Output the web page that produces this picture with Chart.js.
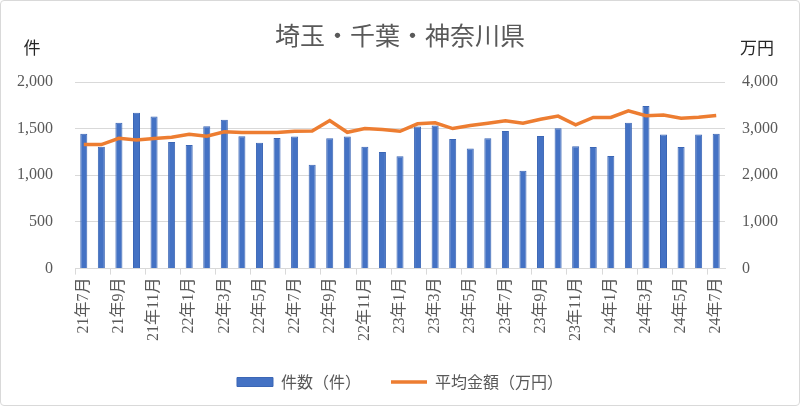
<!DOCTYPE html>
<html>
<head>
<meta charset="utf-8">
<script src="https://cdn.jsdelivr.net/npm/chart.js@4"></script>
<style>
  html, body { margin: 0; padding: 0; background: #fff; }
  #wrap { position: relative; width: 800px; height: 406px; }
  #frame { position: absolute; left: 0; top: 0; right: 0; bottom: 0; border: 1px solid #d9d9d9; border-radius: 4px; pointer-events: none; }
</style>
</head>
<body>
<div id="wrap">
  <canvas id="chart"></canvas>
  <div id="frame"></div>
</div>
<script>
const months = [
  '21年7月', '21年8月', '21年9月', '21年10月', '21年11月', '21年12月',
  '22年1月', '22年2月', '22年3月', '22年4月', '22年5月', '22年6月',
  '22年7月', '22年8月', '22年9月', '22年10月', '22年11月', '22年12月',
  '23年1月', '23年2月', '23年3月', '23年4月', '23年5月', '23年6月',
  '23年7月', '23年8月', '23年9月', '23年10月', '23年11月', '23年12月',
  '24年1月', '24年2月', '24年3月', '24年4月', '24年5月', '24年6月',
  '24年7月'
];
const counts = [
  1444, 1307, 1562, 1670, 1630, 1358, 1325, 1526, 1595, 1418, 1350, 1400,
  1415, 1113, 1397, 1415, 1307, 1250, 1203, 1523, 1533, 1390, 1286, 1397,
  1476, 1049, 1422, 1505, 1311, 1304, 1207, 1562, 1742, 1436, 1304, 1436,
  1444
];
const avgAmount = [
  2658, 2658, 2794, 2758, 2787, 2815, 2880, 2837, 2931, 2916, 2920, 2916,
  2944, 2950, 3175, 2922, 3002, 2980, 2944, 3103, 3125, 3002, 3067, 3116,
  3168, 3116, 3203, 3268, 3082, 3240, 3240, 3383, 3276, 3290, 3225, 3246,
  3283
];

const tickFont = { family: "'Liberation Serif', 'Noto Sans CJK JP', serif", size: 16 };
const textColor = '#595959';

// title and axis unit labels drawn at fixed spots
const headerText = {
  id: 'headerText',
  afterDraw(chart) {
    const ctx = chart.ctx;
    ctx.save();
    ctx.textBaseline = 'middle';
    ctx.textAlign = 'center';
    ctx.fillStyle = textColor;
    ctx.font = "25px 'Noto Sans CJK JP', sans-serif";
    ctx.fillText('埼玉・千葉・神奈川県', 400, 35);
    ctx.fillStyle = '#262626';
    ctx.font = "17px 'Noto Sans CJK JP', sans-serif";
    ctx.fillText('件', 32, 48);
    ctx.fillText('万円', 757, 48);
    ctx.restore();
  }
};

new Chart(document.getElementById('chart').getContext('2d'), {
  type: 'bar',
  data: {
    labels: months,
    datasets: [{
      label: '件数（件）',
      data: counts,
      yAxisID: 'y',
      backgroundColor: '#4472C4',
      borderColor: '#3b66b5',
      borderWidth: 1,
      barPercentage: 0.4,
      categoryPercentage: 1,
      order: 2
    }, {
      type: 'line',
      label: '平均金額（万円）',
      data: avgAmount,
      yAxisID: 'y1',
      borderColor: '#ED7D31',
      backgroundColor: '#ED7D31',
      borderWidth: 3.5,
      pointRadius: 0,
      tension: 0,
      order: 1
    }]
  },
  options: {
    responsive: true,
    maintainAspectRatio: false,
    animation: false,
    layout: { padding: { top: 82, bottom: 6, left: 0, right: 0 } },
    scales: {
      x: {
        grid: {
          offset: true,
          drawOnChartArea: false,
          tickLength: 6,
          color: (c) => (c.index % 2 === 0 ? '#d9d9d9' : 'rgba(0,0,0,0)')
        },
        border: { color: '#d9d9d9' },
        ticks: {
          autoSkip: false,
          minRotation: 90,
          maxRotation: 90,
          font: tickFont,
          color: textColor,
          padding: 3,
          callback: function(value, index) {
            return index % 2 === 0 ? this.getLabelForValue(value) : '';
          }
        }
      },
      y: {
        position: 'left',
        min: 0,
        max: 2000,
        grid: { color: '#d9d9d9', drawTicks: false },
        border: { display: false },
        ticks: { stepSize: 500, font: tickFont, color: textColor, padding: 22 },
        afterFit(scale) { scale.width = 75; }
      },
      y1: {
        position: 'right',
        min: 0,
        max: 4000,
        grid: { drawOnChartArea: false, drawTicks: false },
        border: { display: false },
        ticks: { stepSize: 1000, font: tickFont, color: textColor, padding: 17 },
        afterFit(scale) { scale.width = 75; }
      }
    },
    plugins: {
      legend: {
        position: 'bottom',
        labels: {
          usePointStyle: true,
          pointStyleWidth: 36,
          boxHeight: 9,
          padding: 30,
          color: textColor,
          font: { family: "'Noto Sans CJK JP', sans-serif", size: 16 },
          sort: (a, b) => a.datasetIndex - b.datasetIndex,
          generateLabels(chart) {
            const items = Chart.defaults.plugins.legend.labels.generateLabels(chart);
            items.forEach(item => {
              if (item.datasetIndex === 0) {
                item.pointStyle = 'rect';
                item.fillStyle = '#4472C4';
                item.strokeStyle = '#3b66b5';
                item.lineWidth = 1;
              } else {
                item.pointStyle = 'line';
                item.strokeStyle = '#ED7D31';
                item.lineWidth = 3.5;
              }
            });
            return items;
          }
        }
      },
      tooltip: { enabled: false }
    }
  },
  plugins: [headerText]
});
</script>
</body>
</html>
